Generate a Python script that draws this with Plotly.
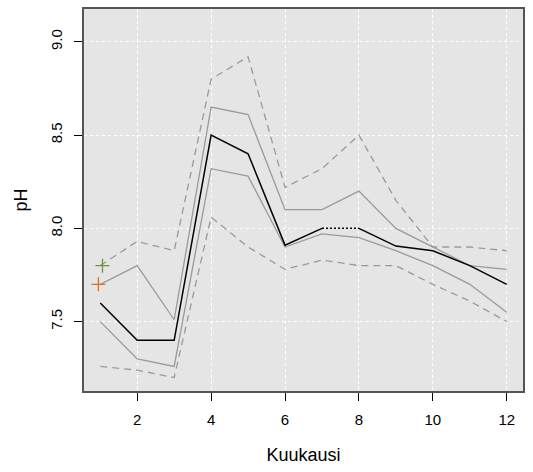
import plotly.graph_objects as go

months = list(range(1, 13))
median = [7.60, 7.40, 7.40, 8.50, 8.40, 7.91, 8.00, 8.00, 7.905, 7.88, 7.80, 7.70]
upper_inner = [7.70, 7.80, 7.51, 8.65, 8.61, 8.10, 8.10, 8.20, 8.00, 7.90, 7.80, 7.78]
lower_inner = [7.50, 7.30, 7.26, 8.32, 8.28, 7.90, 7.97, 7.95, 7.88, 7.80, 7.70, 7.55]
upper_outer = [7.80, 7.93, 7.88, 8.80, 8.92, 8.22, 8.32, 8.50, 8.15, 7.90, 7.90, 7.88]
lower_outer = [7.26, 7.24, 7.20, 8.06, 7.90, 7.78, 7.83, 7.80, 7.80, 7.70, 7.61, 7.50]
obs_x = [0.95, 1.06]
obs_y = [7.70, 7.80]
obs_colors = ["#E07020", "#6A9040"]
y_ticks = [7.5, 8.0, 8.5, 9.0]
x_ticks = [2, 4, 6, 8, 10, 12]

GRAY = "#9A9A9A"
fig = go.Figure()
fig.add_trace(go.Scatter(x=months, y=upper_outer, mode="lines",
                         line=dict(color=GRAY, width=1.3, dash="7px,5px")))
fig.add_trace(go.Scatter(x=months, y=lower_outer, mode="lines",
                         line=dict(color=GRAY, width=1.3, dash="7px,5px")))
fig.add_trace(go.Scatter(x=months, y=upper_inner, mode="lines",
                         line=dict(color=GRAY, width=1.3)))
fig.add_trace(go.Scatter(x=months, y=lower_inner, mode="lines",
                         line=dict(color=GRAY, width=1.3)))
# median: solid except dotted between month 7 and 8
fig.add_trace(go.Scatter(x=months[:7], y=median[:7], mode="lines",
                         line=dict(color="black", width=1.5)))
fig.add_trace(go.Scatter(x=months[7:], y=median[7:], mode="lines",
                         line=dict(color="black", width=1.5)))
fig.add_trace(go.Scatter(x=months[6:8], y=median[6:8], mode="lines",
                         line=dict(color="black", width=1.5, dash="2px,2px")))
fig.add_trace(go.Scatter(x=obs_x, y=obs_y, mode="markers",
                         marker=dict(symbol="cross-thin", size=10,
                                     color=obs_colors,
                                     line=dict(color=obs_colors, width=1.3))))

fig.update_layout(
    width=533, height=472,
    margin=dict(l=84, r=10, t=7, b=81),
    paper_bgcolor="white", plot_bgcolor="#E5E5E5",
    showlegend=False,
    font=dict(family="Liberation Sans, Arial, sans-serif", size=15, color="black"),
)
fig.update_xaxes(
    range=[0.56, 12.44], tickvals=x_ticks, ticktext=[str(v) for v in x_ticks],
    tickfont=dict(size=15), ticklabelstandoff=6,
    showgrid=True, gridcolor="white", griddash="dot", gridwidth=1,
    zeroline=False, showline=True, linecolor="#555555", linewidth=1.5, mirror=True,
    ticks="outside", ticklen=8, tickcolor="black",
    title=dict(text="Kuukausi", standoff=22),
)
fig.update_yaxes(
    range=[7.128, 9.176], tickvals=y_ticks, ticktext=[f"{v:.1f}" for v in y_ticks],
    tickangle=-90, tickfont=dict(size=15), ticklabelstandoff=6,
    showgrid=True, gridcolor="white", griddash="dot", gridwidth=1,
    zeroline=False, showline=True, linecolor="#555555", linewidth=1.5, mirror=True,
    ticks="outside", ticklen=8, tickcolor="black",
    title=dict(text="pH", standoff=16),
)
fig.write_html("out.html")
